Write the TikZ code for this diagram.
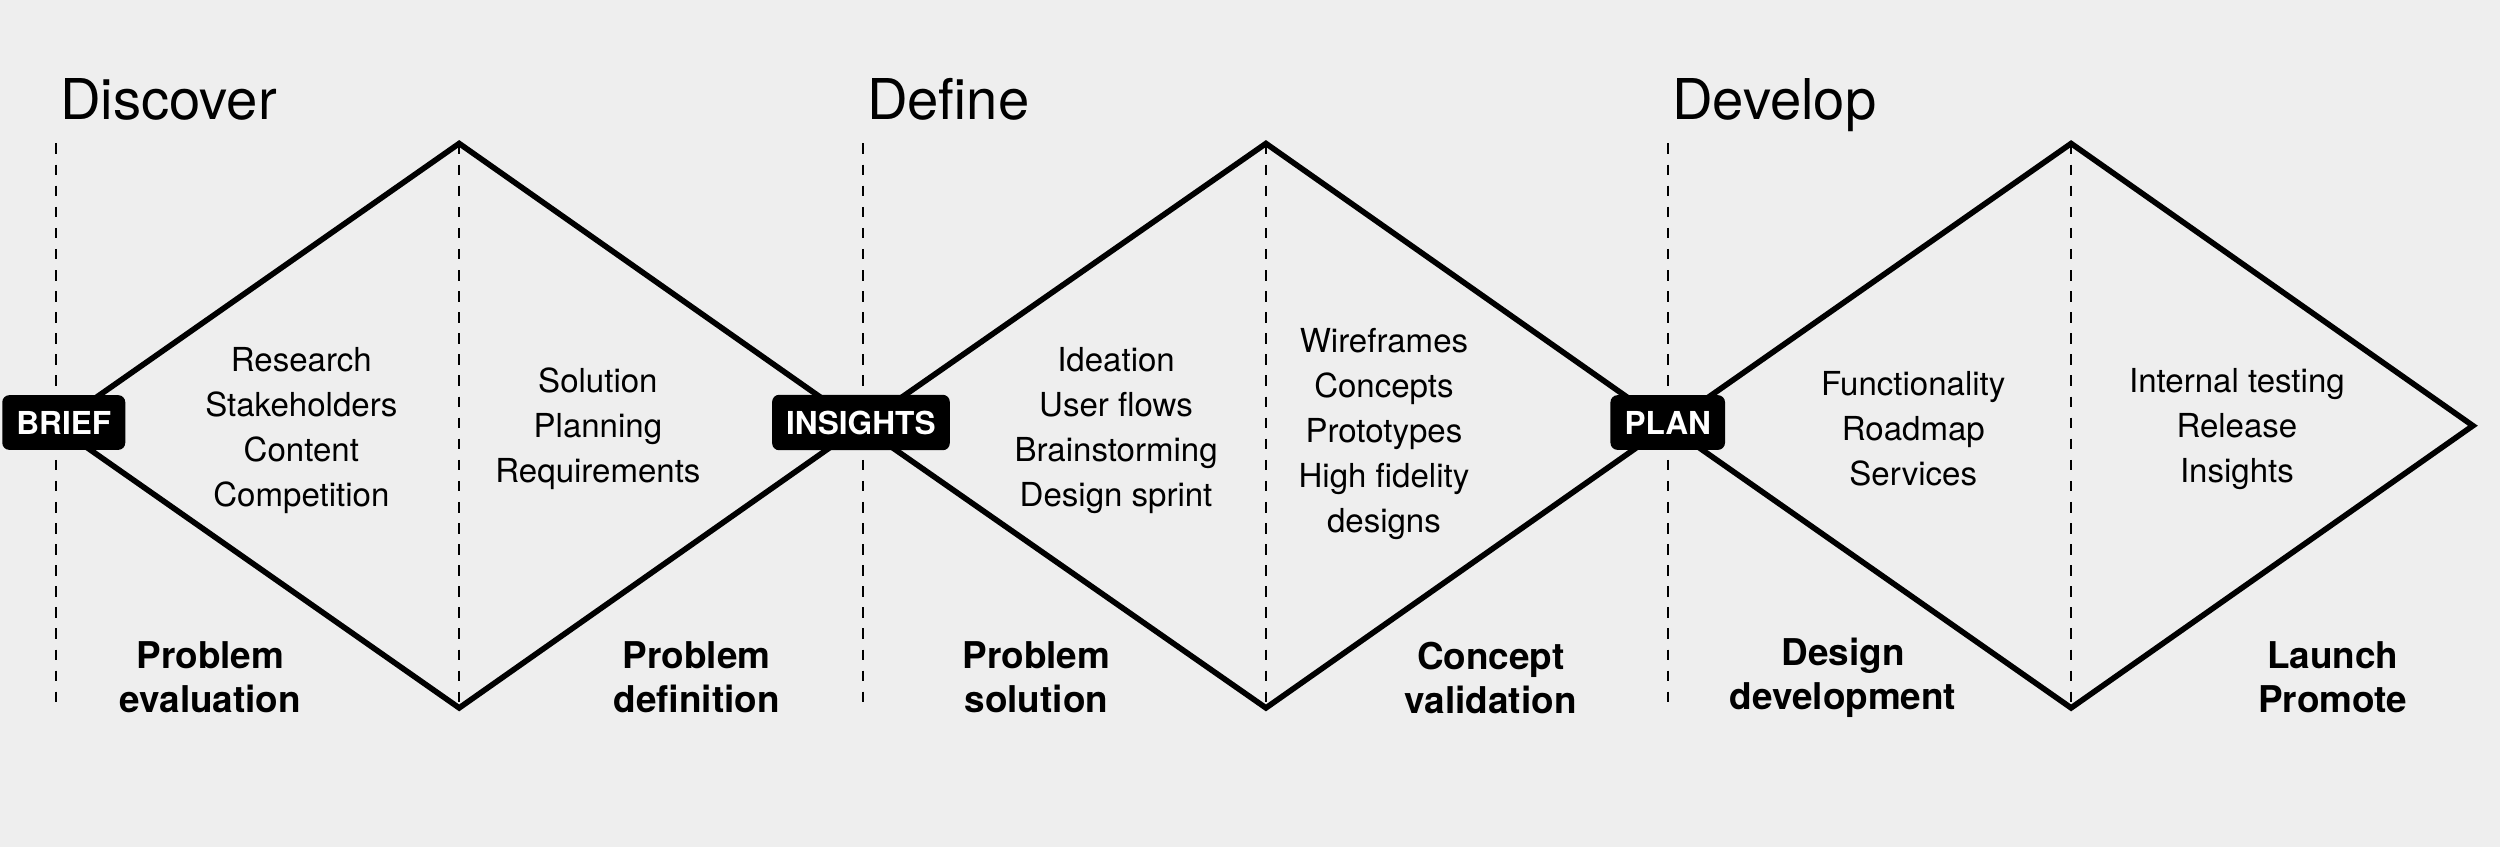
\documentclass[tikz,border=0pt]{standalone}
\usepackage{fontspec}
\setmainfont{TeX Gyre Heros}
\begin{document}
\begin{tikzpicture}[x=0.01594cm,y=-0.01594cm,
  dia/.style={line width=1.6pt,line join=miter},
  guide/.style={dashed,line width=0.6pt},
  badge/.style={fill=black,text=white,rounded corners=2pt,font=\bfseries\fontsize{9}{11}\selectfont,inner xsep=4pt,inner ysep=4.5pt},
  lst/.style={align=center,font=\fontsize{9.4}{12.8}\selectfont},
  lbl/.style={align=center,font=\bfseries\fontsize{10.5}{12.5}\selectfont},
  ttl/.style={anchor=base west,font=\fontsize{16}{20}\selectfont}]
\fill[black!6.5] (0,0) rectangle (1568,531);
\useasboundingbox (0,0) rectangle (1568,531);
\foreach \i/\x in {0/35,1/541,2/1046}{
  \coordinate (l\i) at (\x,267);
  \coordinate (t\i) at (\x+253,90);
  \coordinate (b\i) at (\x+253,444);
  \coordinate (r\i) at (\x+505,267);
  \draw[guide] (\x,90) -- (\x,444);
  \draw[guide] (t\i) -- (b\i);
}
\coordinate (r2) at (1551,267);
\draw[dia] (l0) -- (t0) -- (r0) -- (t1) -- (r1) -- (t2) -- (r2) -- (b2) -- (r1) -- (b1) -- (r0) -- (b0) -- cycle;
\node[ttl] (d1) at (30,75) {Discover};
\node[ttl] (d2) at (536,75) {Define};
\node[ttl] (d3) at (1041,75) {Develop};
\node[badge] (brief) at (40,265) {BRIEF};
\node[badge] (ins) at (540,265) {INSIGHTS};
\node[badge] (plan) at (1046,265) {PLAN};
\node[lst] (a1) at (189,270) {Research\\Stakeholders\\Content\\Competition};
\node[lst] (a2) at (375,269) {Solution\\Planning\\Requirements};
\node[lst] (a3) at (700,270) {Ideation\\User flows\\Brainstorming\\Design sprint};
\node[lst] (a4) at (868,272) {Wireframes\\Concepts\\Prototypes\\High fidelity\\designs};
\node[lst] (a5) at (1200,269) {Functionality\\Roadmap\\Services};
\node[lst] (a6) at (1403,269) {Internal testing\\Release\\Insights};
\node[lbl] (p1) at (132,425) {Problem\\evaluation};
\node[lbl] (p2) at (437,425) {Problem\\definition};
\node[lbl] (p3) at (650,425) {Problem\\solution};
\node[lbl] (p4) at (935,425) {Concept\\validation};
\node[lbl] (p5) at (1156,425) {Design\\development};
\node[lbl] (p6) at (1463,425) {Launch\\Promote};
\end{tikzpicture}
\end{document}
